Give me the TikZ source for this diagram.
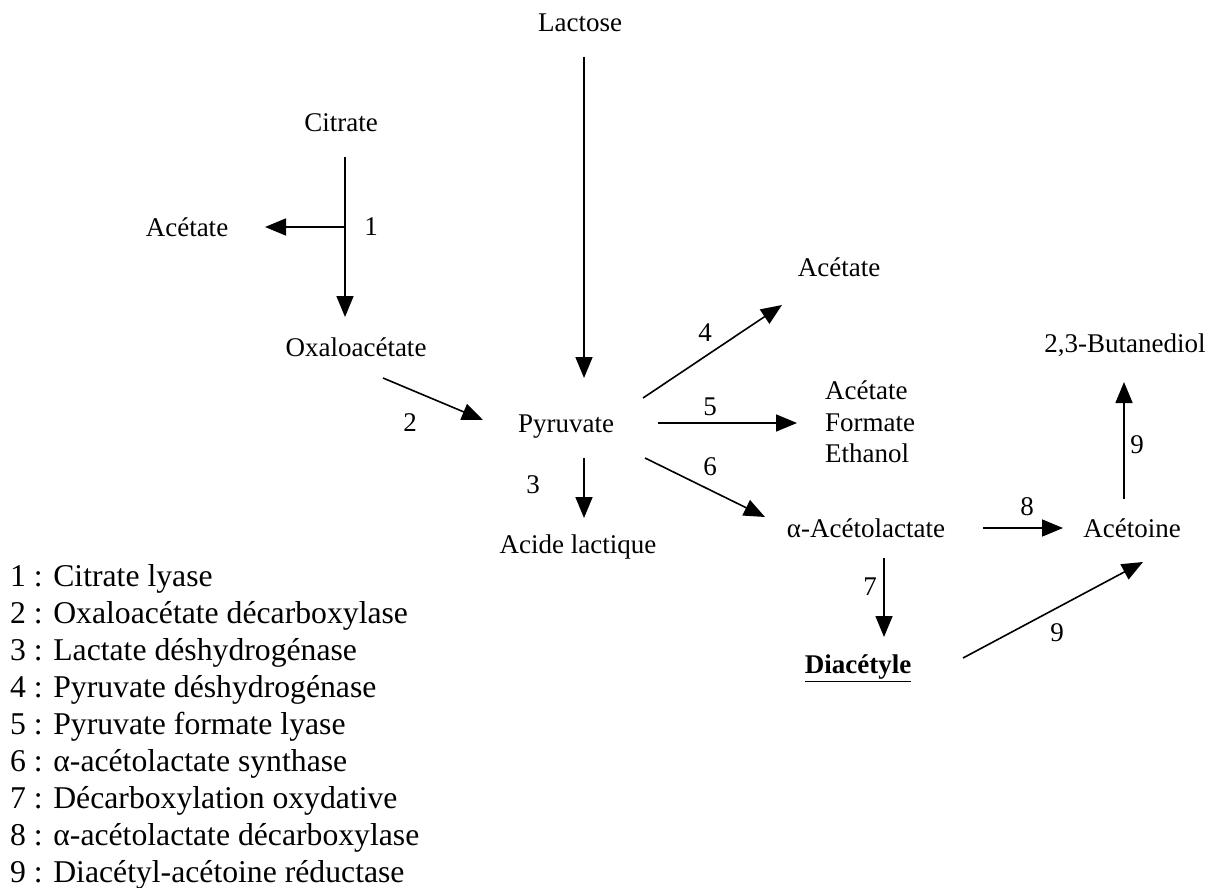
\documentclass[tikz,border=0pt]{standalone}
\usepackage{fontspec}
\setmainfont{Liberation Serif}
\usetikzlibrary{arrows.meta,calc}
\tikzset{
  espece/.style={inner sep=0pt, font=\fontsize{27}{31.5}\selectfont},
  num/.style={inner sep=0pt, font=\fontsize{27}{31.5}\selectfont},
  fleche/.style={line width=1.6pt, -{Triangle[length=21pt,width=17pt]}},
  legende/.style={inner sep=0pt, align=left, font=\fontsize{31.7}{36.9}\selectfont}
}

\begin{document}
\begin{tikzpicture}[x=1pt, y=-1pt]
  \useasboundingbox (0,0) rectangle (1215,888);
  \node[espece] (lactose) at (580,23) {Lactose};
  \node[espece] (citrate) at (341,123) {Citrate};
  \node[espece] (acetate1) at (187,227) {Acétate};
  \node[espece] (oxalo) at (356,347) {Oxaloacétate};
  \node[espece] (pyruvate) at (566,427) {Pyruvate};
  \node[espece] (lactique) at (578,547) {Acide lactique};
  \node[espece] (acetate2) at (839,267) {Acétate};
  \node[espece, align=left, anchor=west] (afe) at (825,422) {Acétate\\Formate\\Ethanol};
  \node[espece] (acetolact) at (866,528) {α-Acétolactate};
  \node[espece] (acetoine) at (1132,528) {Acétoine};
  \node[espece] (butanediol) at (1125,345) {2,3-Butanediol};
  \node[espece] (diacetyle) at (858,668) {\textbf{\underline{Diacétyle}}};

  \coordinate (br1) at ($(citrate)+(4,104)$);
  \draw[fleche] ($(citrate)+(4,34)$) -- ($(oxalo)+(-11,-30)$);
  \draw[fleche] (br1) -- ($(acetate1)+(78,0)$);
  \node[num] (n1) at (371,227) {1};
  \draw[fleche] ($(oxalo)+(27,31)$) -- ($(pyruvate)+(-83,-7)$);
  \node[num] (n2) at (410,423) {2};
  \draw[fleche] ($(lactose)+(4,34)$) -- ($(pyruvate)+(18,-49)$);
  \draw[fleche] ($(pyruvate)+(18,31)$) -- ($(lactique)+(6,-29)$);
  \node[num] (n3) at (533,485) {3};
  \draw[fleche] ($(pyruvate)+(77,-29)$) -- ($(acetate2)+(-57,38)$);
  \node[num] (n4) at (705,333) {4};
  \draw[fleche] ($(pyruvate)+(92,-4)$) -- ($(afe.west)+(-28,1)$);
  \node[num] (n5) at (710,407) {5};
  \draw[fleche] ($(pyruvate)+(79,31)$) -- ($(acetolact)+(-101,-11)$);
  \node[num] (n6) at (710,467) {6};
  \draw[fleche] ($(acetolact)+(18,30)$) -- ($(diacetyle)+(26,-31)$);
  \node[num] (n7) at (870,587) {7};
  \draw[fleche] ($(acetolact)+(117,0)$) -- ($(acetoine)+(-69,0)$);
  \node[num] (n8) at (1027,507) {8};
  \draw[fleche] ($(acetoine)+(-8,-29)$) -- ($(butanediol)+(-1,37)$);
  \node[num] (n9a) at (1137,445) {9};
  \draw[fleche] ($(diacetyle)+(105,-10)$) -- ($(acetoine)+(11,34)$);
  \node[num] (n9b) at (1057,633) {9};

  \node[legende, anchor=west] (liste) at (10,727) {1 : Citrate lyase\\
    2 : Oxaloacétate décarboxylase\\
    3 : Lactate déshydrogénase\\
    4 : Pyruvate déshydrogénase\\
    5 : Pyruvate formate lyase\\
    6 : α-acétolactate synthase\\
    7 : Décarboxylation oxydative\\
    8 : α-acétolactate décarboxylase\\
    9 : Diacétyl-acétoine réductase};
\end{tikzpicture}
\end{document}
